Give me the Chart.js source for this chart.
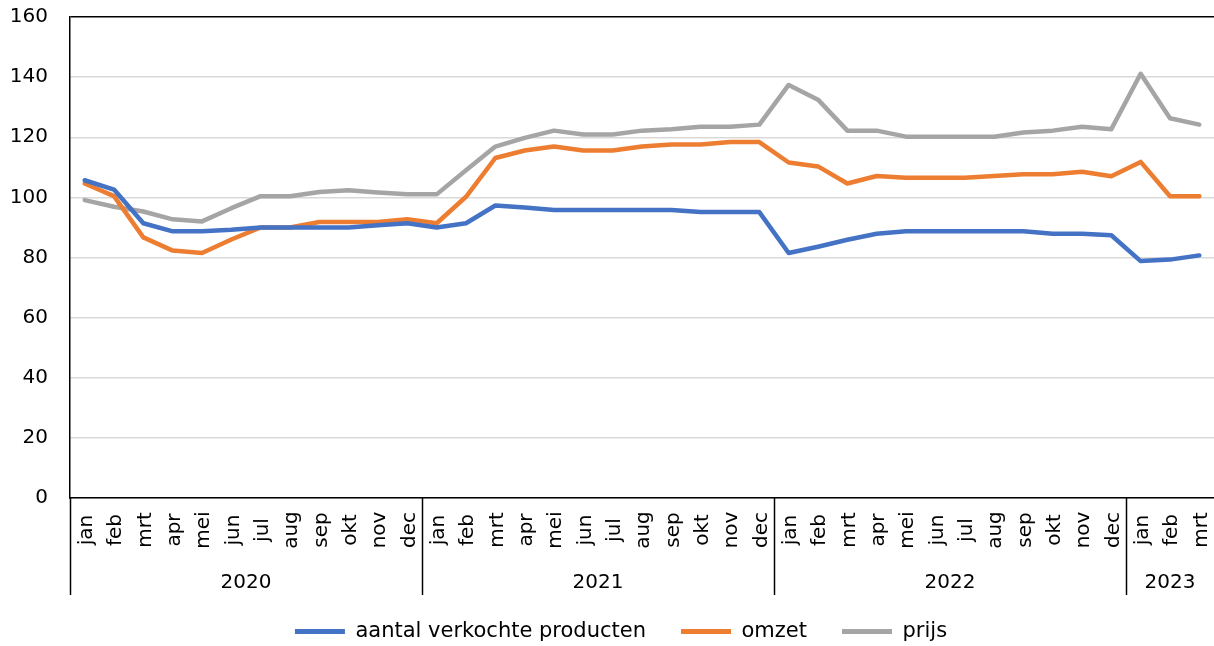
<!DOCTYPE html>
<html>
<head>
<meta charset="utf-8">
<script src="https://cdn.jsdelivr.net/npm/chart.js@4.4.1/dist/chart.umd.min.js"></script>
<style>
  html, body { margin: 0; padding: 0; background: #fff; }
  #wrap { width: 1214px; height: 646px; position: relative; }
</style>
</head>
<body>
<div id="wrap"><canvas id="chart"></canvas></div>
<script>
// === DATA ===
const monthNames = ['jan', 'feb', 'mrt', 'apr', 'mei', 'jun', 'jul', 'aug', 'sep', 'okt', 'nov', 'dec'];
const years = ['2020', '2021', '2022', '2023'];
const monthsPerYear = [12, 12, 12, 3];
const yTicks = [0, 20, 40, 60, 80, 100, 120, 140, 160];

const aantal = [
    105.7, 102.6, 91.4, 88.7, 88.7, 89.2, 90.0, 90.0, 90.0, 90.0, 90.7, 91.4,
    90.0, 91.4, 97.3, 96.6, 95.8, 95.8, 95.8, 95.8, 95.8, 95.1, 95.1, 95.1,
    81.5, 83.6, 85.9, 87.9, 88.7, 88.7, 88.7, 88.7, 88.7, 87.9, 87.9, 87.4,
    78.8, 79.3, 80.7
];
const omzet = [
    104.6, 100.4, 86.7, 82.3, 81.5, 86.0, 90.0, 90.0, 91.8, 91.8, 91.8, 92.7,
    91.4, 100.2, 113.1, 115.6, 116.9, 115.6, 115.6, 116.9, 117.6, 117.6, 118.4, 118.4,
    111.6, 110.3, 104.6, 107.1, 106.5, 106.5, 106.5, 107.1, 107.7, 107.7, 108.5, 107.0,
    111.8, 100.4, 100.4
];
const prijs = [
    99.1, 96.9, 95.3, 92.7, 92.0, 96.4, 100.4, 100.4, 101.8, 102.4, 101.6, 101.0,
    101.0, 109.0, 116.9, 119.8, 122.2, 120.9, 120.9, 122.2, 122.7, 123.5, 123.5, 124.2,
    137.4, 132.5, 122.2, 122.2, 120.2, 120.2, 120.2, 120.2, 121.6, 122.2, 123.5, 122.7,
    141.1, 126.3, 124.2
];

// month label per category, built from the year/month lists
const labels = [];
monthsPerYear.forEach(n => { for (let m = 0; m < n; m++) labels.push(monthNames[m]); });

const FONT = 'DejaVu Sans, Verdana, sans-serif';

// Draws the two-level category axis (months + years) and the year separators
const multiLevelAxis = {
    id: 'multiLevelAxis',
    beforeDraw(chart) {
        // legend sits a bit right of the canvas centre, as in the original
        if (chart.legend) chart.legend.left = 28;
    },
    afterDraw(chart) {
        const { ctx, chartArea } = chart;
        const x = chart.scales.x;
        const half = (x.getPixelForValue(1) - x.getPixelForValue(0)) / 2;
        ctx.save();
        ctx.fillStyle = '#000';
        ctx.font = '20px ' + FONT;

        // months, rotated
        labels.forEach((lab, i) => {
            ctx.save();
            ctx.translate(x.getPixelForValue(i) + 2, chartArea.bottom + 32);
            ctx.rotate(-Math.PI / 2);
            ctx.textAlign = 'center';
            ctx.textBaseline = 'middle';
            ctx.fillText(lab, 0, 0);
            ctx.restore();
        });

        // separators + years
        ctx.strokeStyle = '#000';
        ctx.lineWidth = 1.5;
        let start = 0;
        years.forEach((yr, k) => {
            const end = start + monthsPerYear[k] - 1;
            const left = x.getPixelForValue(start) - half;
            const right = x.getPixelForValue(end) + half;
            ctx.beginPath();
            ctx.moveTo(Math.round(left) + 0.5, chartArea.bottom);
            ctx.lineTo(Math.round(left) + 0.5, chartArea.bottom + 97);
            ctx.stroke();
            ctx.textAlign = 'center';
            ctx.textBaseline = 'middle';
            ctx.fillText(yr, (left + right) / 2, chartArea.bottom + 85);
            start = end + 1;
        });
        ctx.restore();
    }
};

function makeSet(label, data, color) {
    return {
        label: label,
        data: data,
        borderColor: color,
        backgroundColor: color,
        borderWidth: 4.5,
        pointRadius: 0,
        tension: 0,
        fill: false,
        borderJoinStyle: 'round',
        borderCapStyle: 'round'
    };
}

new Chart(document.getElementById('chart'), {
    type: 'line',
    data: {
        labels: labels,
        datasets: [
            makeSet('aantal verkochte producten', aantal, '#4472C4'),
            makeSet('omzet', omzet, '#ED7D31'),
            makeSet('prijs', prijs, '#A5A5A5')
        ]
    },
    options: {
        responsive: true,
        maintainAspectRatio: false,
        animation: false,
        events: [],
        layout: { padding: { top: 17, right: 0, bottom: 0, left: 0 } },
        plugins: {
            tooltip: { enabled: false },
            legend: {
                position: 'bottom',
                maxHeight: 60,
                labels: {
                    color: '#000',
                    font: { family: FONT, size: 21 },
                    boxWidth: 50,
                    boxHeight: 5,
                    padding: 35,
                    generateLabels(chart) {
                        const items = Chart.defaults.plugins.legend.labels.generateLabels(chart);
                        items.forEach(it => { it.lineWidth = 0; });
                        return items;
                    }
                }
            }
        },
        scales: {
            x: {
                offset: true,
                grid: { display: false },
                border: { display: true, color: '#000', width: 1.5 },
                ticks: { display: false },
                afterFit(s) { s.height = 88; }
            },
            y: {
                min: 0,
                max: 160,
                afterBuildTicks(s) { s.ticks = yTicks.map(v => ({ value: v })); },
                grid: {
                    color: c => (c.tick && c.tick.value === 160 ? '#000' : '#D9D9D9'),
                    lineWidth: 1.5,
                    drawTicks: true,
                    tickLength: 22,
                    tickColor: 'rgba(0,0,0,0)'
                },
                border: { display: true, color: '#000', width: 1.5 },
                ticks: { color: '#000', font: { family: FONT, size: 20 }, padding: 0 },
                afterFit(s) { s.width = 70; }
            }
        }
    },
    plugins: [multiLevelAxis]
});
</script>
</body>
</html>
